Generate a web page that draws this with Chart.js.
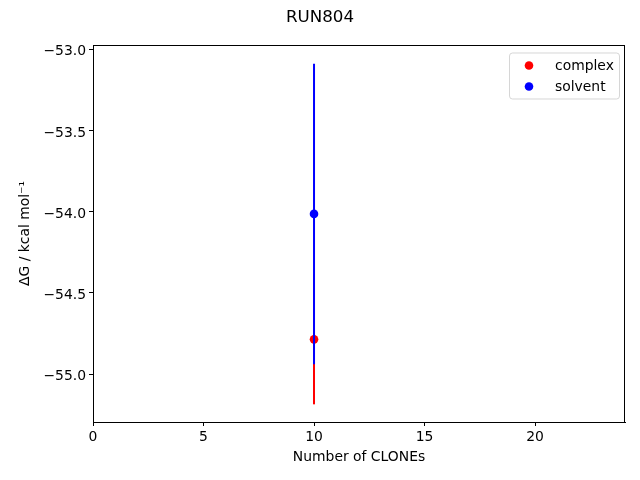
<!DOCTYPE html>
<html><head><meta charset="utf-8">
<script src="https://cdn.jsdelivr.net/npm/chart.js@4"></script>
<style>html,body{margin:0;padding:0;background:#fff}</style>
</head><body><canvas id="c" width="640" height="480"></canvas>
<script>
const chartTitle = "RUN804";
const xTitle = "Number of CLONEs";
const yTitle = "ΔG / kcal mol⁻¹";
const seriesNames = ["complex", "solvent"];
const seriesColors = ["#ff0000", "#0000ff"];
const clones = [10];
const complexDG = [-54.786];
const complexErr = [0.401];
const solventDG = [-54.012];
const solventErr = [0.927];
const xTicks = [0, 5, 10, 15, 20];
const yTicks = [-55.0, -54.5, -54.0, -53.5, -53.0];
const xRange = [0, 24.07];
const yRange = [-55.296, -52.97];

const FONT = "'DejaVu Sans', sans-serif";

function pts(xs, ys) { return xs.map((x, i) => ({x: x, y: ys[i]})); }
function errSegs(xs, ys, es) {
  const out = [];
  xs.forEach((x, i) => {
    out.push({x: x, y: ys[i] - es[i]});
    out.push({x: x, y: ys[i] + es[i]});
    out.push({x: x, y: null});
  });
  return out;
}
function fmt(v, d) {
  const s = Math.abs(v).toFixed(d);
  return (v < 0 ? "\u2212" : "") + s;
}

const extras = {
  id: 'extras',
  afterDraw(chart) {
    const ctx = chart.ctx;
    const a = chart.chartArea;
    ctx.save();
    // frame
    ctx.strokeStyle = '#000';
    ctx.lineWidth = 1;
    ctx.strokeRect(Math.round(a.left) + 0.5, Math.round(a.top) + 0.5,
                   Math.round(a.right - a.left) - 1, Math.round(a.bottom - a.top));
    // title
    ctx.fillStyle = '#000';
    ctx.font = "16.7px " + FONT;
    ctx.textAlign = 'center';
    ctx.textBaseline = 'middle';
    ctx.fillText(chartTitle, chart.width / 2, 18);
    // legend
    const bw = 110, bh = 46;
    const bx = a.right - 6 - bw, by = a.top + 7.5;
    ctx.beginPath();
    if (ctx.roundRect) ctx.roundRect(bx + 0.5, by + 0.5, bw, bh, 3); else ctx.rect(bx + 0.5, by + 0.5, bw, bh);
    ctx.fillStyle = 'rgba(255,255,255,0.8)';
    ctx.fill();
    ctx.strokeStyle = 'rgba(204,204,204,0.8)';
    ctx.stroke();
    ctx.font = "13.9px " + FONT;
    ctx.textAlign = 'left';
    seriesNames.forEach((n, i) => {
      const cy = by + 13 + i * 21;
      ctx.beginPath();
      ctx.arc(bx + 20, cy, 4.3, 0, Math.PI * 2);
      ctx.fillStyle = seriesColors[i];
      ctx.fill();
      ctx.fillStyle = '#000';
      ctx.fillText(n, bx + 46, cy + 1);
    });
    ctx.restore();
  }
};

new Chart(document.getElementById('c'), {
  type: 'scatter',
  data: {
    datasets: [
      {label: seriesNames[0] + ' err', type: 'line', data: errSegs(clones, complexDG, complexErr),
       borderColor: seriesColors[0], borderWidth: 2, pointRadius: 0, spanGaps: false, order: 3},
      {label: seriesNames[0], data: pts(clones, complexDG), backgroundColor: seriesColors[0],
       borderWidth: 0, pointRadius: 4.3, order: 2},
      {label: seriesNames[1] + ' err', type: 'line', data: errSegs(clones, solventDG, solventErr),
       borderColor: seriesColors[1], borderWidth: 2, pointRadius: 0, spanGaps: false, order: 1},
      {label: seriesNames[1], data: pts(clones, solventDG), backgroundColor: seriesColors[1],
       borderWidth: 0, pointRadius: 4.3, order: 0}
    ]
  },
  options: {
    responsive: false,
    animation: false,
    layout: {padding: {top: 45, right: 15, left: 0, bottom: 0}},
    plugins: {legend: {display: false}, tooltip: {enabled: false}, title: {display: false}},
    scales: {
      x: {
        type: 'linear', min: xRange[0], max: xRange[1],
        afterBuildTicks: s => { s.ticks = xTicks.map(v => ({value: v})); },
        afterFit: s => { s.height = 58; },
        ticks: {color: '#000', font: {family: FONT, size: 13.9}, padding: 3, maxRotation: 0,
                callback: v => fmt(v, 0)},
        grid: {display: true, drawOnChartArea: false, drawTicks: true, tickLength: 4, tickColor: '#000'},
        border: {display: true, color: '#000', width: 1},
        title: {display: true, text: xTitle, color: '#000', font: {family: FONT, size: 13.9},
                padding: {top: 0, bottom: 14}}
      },
      y: {
        type: 'linear', min: yRange[0], max: yRange[1],
        afterBuildTicks: s => { s.ticks = yTicks.map(v => ({value: v})); },
        afterFit: s => { s.width = 93; },
        ticks: {color: '#000', font: {family: FONT, size: 13.9}, padding: 3, labelOffset: 2,
                callback: v => fmt(v, 1)},
        grid: {display: true, drawOnChartArea: false, drawTicks: true, tickLength: 4, tickColor: '#000'},
        border: {display: true, color: '#000', width: 1},
        title: {display: true, text: yTitle, color: '#000', font: {family: FONT, size: 13.9},
                padding: {top: 17, bottom: 0}}
      }
    }
  },
  plugins: [extras]
});
</script>
</body></html>
